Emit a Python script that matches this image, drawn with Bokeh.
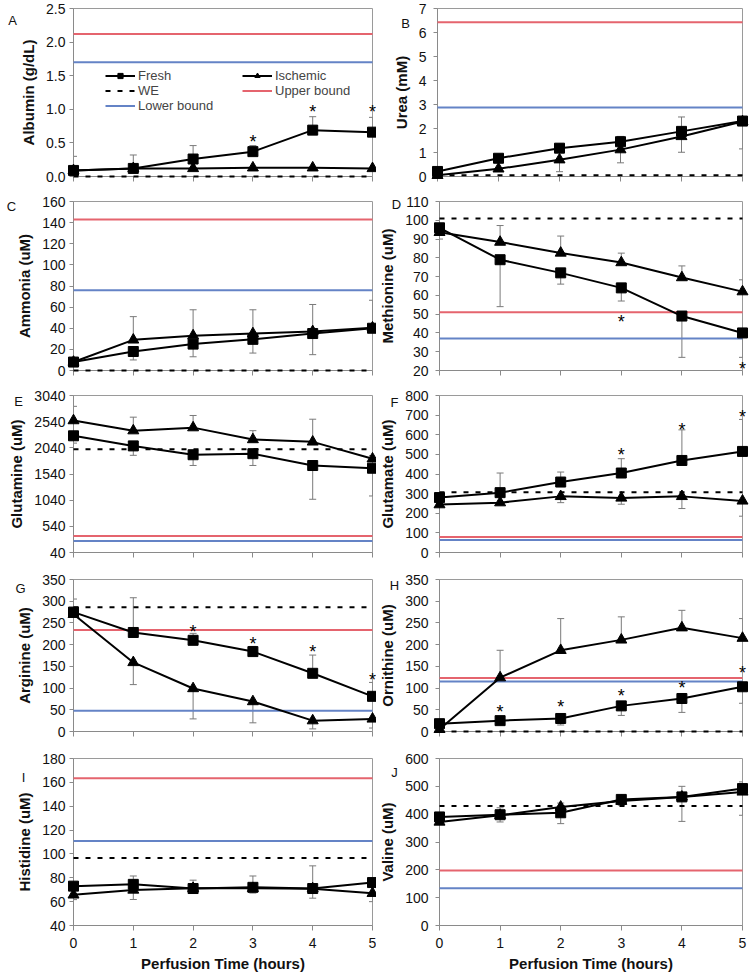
import numpy as np
from bokeh.plotting import figure
from bokeh.models import (ColumnDataSource, Whisker, TeeHead, Legend, LegendItem,
                          FixedTicker, PrintfTickFormatter, Range1d)
from bokeh.layouts import column, row
from bokeh.core.properties import value
from bokeh.embed import file_html
from bokeh.resources import INLINE

# ---------------- data ----------------
hours = [0, 1, 2, 3, 4, 5]

# A Albumin (g/dL)
albumin_fresh = [0.09, 0.12, 0.26, 0.37, 0.69, 0.66]
albumin_fresh_err = [0.21, 0.20, 0.20, 0.09, 0.20, 0.22]
albumin_isch = [0.09, 0.12, 0.12, 0.13, 0.13, 0.12]
albumin_isch_err = [0.0, 0.0, 0.0, 0.0, 0.0, 0.0]
albumin_we, albumin_upper, albumin_lower = 0.0, 2.12, 1.70
albumin_star_x = [3, 4, 5]
albumin_star_y = [0.575, 1.015, 1.015]
albumin_ticks = [0.0, 0.5, 1.0, 1.5, 2.0, 2.5]

# B Urea (mM)
urea_fresh = [0.21, 0.76, 1.18, 1.45, 1.88, 2.31]
urea_fresh_err = [0.05, 0.05, 0.18, 0.22, 0.60, 0.05]
urea_isch = [0.05, 0.32, 0.70, 1.12, 1.67, 2.29]
urea_isch_err = [0.02, 0.05, 0.50, 0.55, 0.66, 1.14]
urea_we, urea_upper, urea_lower = 0.05, 6.43, 2.87
urea_star_x, urea_star_y = [], []
urea_ticks = [0, 1, 2, 3, 4, 5, 6, 7]

# C Ammonia (uM)
ammonia_fresh = [8, 18, 25, 29.5, 35, 40]
ammonia_fresh_err = [1, 8, 12, 13, 20, 1]
ammonia_isch = [8, 29, 33, 35, 37, 40.5]
ammonia_isch_err = [1, 22, 24.5, 22.5, 25.5, 26]
ammonia_we, ammonia_upper, ammonia_lower = 0, 143, 76
ammonia_star_x, ammonia_star_y = [], []
ammonia_ticks = [0, 20, 40, 60, 80, 100, 120, 140, 160]

# D Methionine (uM)
methionine_fresh = [96, 79, 72, 64, 49, 40]
methionine_fresh_err = [6, 25, 6, 7, 22, 13]
methionine_isch = [93.6, 88.4, 82.6, 77.5, 69.5, 62]
methionine_isch_err = [2, 8.8, 9, 5, 6.2, 6.3]
methionine_we, methionine_upper, methionine_lower = 101, 51, 37
methionine_star_x = [3, 5]
methionine_star_y = [47.9, 23]
methionine_ticks = [20, 30, 40, 50, 60, 70, 80, 90, 100, 110]

# E Glutamine (uM)
glutamine_fresh = [2270, 2077, 1908, 1928, 1702, 1650]
glutamine_fresh_err = [140, 180, 205, 225, 645, 530]
glutamine_isch = [2561, 2368, 2426, 2199, 2154, 1831]
glutamine_isch_err = [272, 258, 232, 169, 433, 60]
glutamine_we, glutamine_upper, glutamine_lower = 2012, 357, 260
glutamine_star_x, glutamine_star_y = [], []
glutamine_ticks = [40, 540, 1040, 1540, 2040, 2540, 3040]

# F Glutamate (uM)
glutamate_fresh = [280, 305, 359, 405, 469, 515]
glutamate_fresh_err = [15, 100, 51, 73, 156, 163]
glutamate_isch = [244, 254, 286, 278, 286, 263]
glutamate_isch_err = [10, 10, 32, 32, 62, 78]
glutamate_we, glutamate_upper, glutamate_lower = 307, 79, 64
glutamate_star_x = [3, 4, 5]
glutamate_star_y = [515, 647, 710]
glutamate_ticks = [0, 100, 200, 300, 400, 500, 600, 700, 800]

# G Arginine (uM)
arginine_fresh = [275, 228, 210, 184, 134, 81]
arginine_fresh_err = [30, 80, 16, 12, 42, 32]
arginine_isch = [270, 159, 99, 69, 25, 29]
arginine_isch_err = [5, 51, 70, 49, 19, 21]
arginine_we, arginine_upper, arginine_lower = 286, 234, 48
arginine_star_x = [2, 3, 4, 5]
arginine_star_y = [238, 211, 192, 128]
arginine_ticks = [0, 50, 100, 150, 200, 250, 300, 350]

# H Ornithine (uM)
ornithine_fresh = [18, 25, 30, 59, 76, 103]
ornithine_fresh_err = [3, 4, 15, 22, 32, 38]
ornithine_isch = [5, 124, 187, 211, 239, 215]
ornithine_isch_err = [2, 63, 73, 53, 40, 45]
ornithine_we, ornithine_upper, ornithine_lower = 0, 123, 115
ornithine_star_x = [1, 2, 3, 4, 5]
ornithine_star_y = [53, 65, 90, 109, 143]
ornithine_ticks = [0, 50, 100, 150, 200, 250, 300, 350]

# I Histidine (uM)
histidine_fresh = [73, 74.5, 71, 72, 71, 76]
histidine_fresh_err = [1, 7, 7, 9.5, 19, 1]
histidine_isch = [65.7, 69.8, 71.2, 71.2, 70.9, 67]
histidine_isch_err = [4, 8, 2, 4, 8, 7]
histidine_we, histidine_upper, histidine_lower = 96.6, 163.5, 110.8
histidine_star_x, histidine_star_y = [], []
histidine_ticks = [40, 60, 80, 100, 120, 140, 160, 180]

# J Valine (uM)
valine_fresh = [390, 398, 405, 453, 462, 492]
valine_fresh_err = [5, 25, 35, 9, 38, 24]
valine_isch = [372, 396, 426, 447, 462, 480]
valine_isch_err = [5, 24, 60, 15, 88, 84]
valine_we, valine_upper, valine_lower = 429, 198, 134
valine_star_x, valine_star_y = [], []
valine_ticks = [0, 100, 200, 300, 400, 500, 600]

x_ticks = [0, 1, 2, 3, 4, 5]
x_title = "Perfusion Time (hours)"

# ---------------- style ----------------
FONT = "Liberation Sans"
RED = "#E5646E"
BLUE = "#6483C6"
ERR = "#7a7a7a"
AXIS = "#8a8a8a"

ROW_H = [191, 194, 184, 179, 231]
ROW_TOP = [8, 10, 10, 10, 10]
ROW_BOT = [15, 15, 17, 17, 54]
COL_W = [376, 377]
COL_L = [73, 61]
COL_R = [4, 11]
COL_LABEL_STANDOFF = [4, 7]
OV = "overlay"


def add_err(p, vals, err, direction):
    v = np.array(vals, dtype=float)
    e = np.array(err, dtype=float)
    if direction > 0:
        lo, up = v, v + e
    else:
        lo, up = v - e, v
    src = ColumnDataSource(dict(x=hours, lo=lo, up=up))
    head = lambda: TeeHead(size=7, line_color=ERR, line_width=1)
    w = Whisker(source=src, base="x", lower="lo", upper="up", dimension="height",
                line_color=ERR, line_width=1,
                upper_head=head() if direction > 0 else None,
                lower_head=head() if direction < 0 else None)
    p.add_layout(w)


def panel(letter, ylabel, ylim, yticks, fresh, fresh_err, fdir, isch, isch_err, idir,
          we, upper, lower, star_x, star_y, col, r, letter_off, fmt=None, legend=False):
    bottom = (r == 4)
    p = figure(width=COL_W[col], height=ROW_H[r], output_backend="svg", toolbar_location=None,
               x_range=Range1d(hours[0], hours[-1]), y_range=Range1d(ylim[0], ylim[1]),
               min_border_left=COL_L[col], min_border_right=COL_R[col],
               min_border_top=ROW_TOP[r], min_border_bottom=ROW_BOT[r])
    p.background_fill_color = "white"
    p.border_fill_color = "white"
    p.outline_line_color = "#9a9a9a"
    p.outline_line_width = 1
    p.xgrid.visible = False
    p.ygrid.visible = False

    # axes
    p.xaxis.ticker = FixedTicker(ticks=x_ticks)
    p.yaxis.ticker = FixedTicker(ticks=yticks)
    for ax in (p.xaxis, p.yaxis):
        ax.axis_line_color = AXIS
        ax.major_tick_line_color = AXIS
        ax.minor_tick_line_color = None
        ax.major_tick_in = 0
        ax.major_tick_out = 4
        ax.major_label_text_font = FONT
        ax.major_label_text_font_size = "14px"
        ax.major_label_text_color = "#111111"
        ax.axis_label_text_font = FONT
        ax.axis_label_text_font_style = "bold"
        ax.axis_label_text_font_size = "15px"
        ax.axis_label_text_color = "#111111"
    p.yaxis.major_label_standoff = COL_LABEL_STANDOFF[col]
    p.yaxis.axis_label = ylabel
    p.yaxis.axis_label_standoff = 6
    p.xaxis.major_tick_out = 5
    if fmt:
        p.yaxis.formatter = PrintfTickFormatter(format=fmt)
    if bottom:
        p.xaxis.axis_label = x_title
        p.xaxis.major_label_standoff = 7
        p.xaxis.axis_label_standoff = 4
    else:
        p.xaxis.major_label_text_font_size = "1px"
        p.xaxis.major_label_text_color = None
        p.xaxis.major_label_standoff = 0

    add_err(p, fresh, fresh_err, fdir)
    add_err(p, isch, isch_err, idir)

    xs = [hours[0], hours[-1]]
    r_up = p.line(xs, [upper, upper], line_color=RED, line_width=2, level=OV)
    r_lo = p.line(xs, [lower, lower], line_color=BLUE, line_width=2, level=OV)
    r_we = p.line(xs, [we, we], line_color="black", line_width=2, line_dash="5 7", level=OV)

    l_i = p.line(hours, isch, line_color="black", line_width=2, level=OV)
    l_f = p.line(hours, fresh, line_color="black", line_width=2, level=OV)
    s_i = p.scatter(hours, isch, marker="triangle", size=11, fill_color="black",
                    line_color="black", level=OV)
    s_f = p.scatter(hours, fresh, marker="square", size=10, fill_color="black",
                    line_color="black", level=OV)

    if star_x:
        p.text(x=star_x, y=star_y, text=["*"] * len(star_x), text_font=value(FONT),
               text_font_size="18px", text_align="center", text_baseline="middle",
               y_offset=4, text_color="black", level=OV)

    # panel letter, placed relative to the frame's top-left corner
    p.text(x=[hours[0]], y=[ylim[1]], text=[letter], x_offset=letter_off[0], y_offset=letter_off[1],
           text_font=value(FONT), text_font_size="13px", text_align="center",
           text_baseline="middle", text_color="#111111", level=OV)

    if legend:
        common = dict(label_text_font=FONT, label_text_font_size="13px", label_height=13,
                      glyph_height=13, glyph_width=30, label_standoff=3, spacing=0,
                      padding=0, margin=0, border_line_color=None, background_fill_alpha=0)
        leg1 = Legend(items=[LegendItem(label="Fresh", renderers=[l_f, s_f]),
                             LegendItem(label="WE", renderers=[r_we]),
                             LegendItem(label="Lower bound", renderers=[r_lo])],
                      location=(32, 63), **common)
        leg2 = Legend(items=[LegendItem(label="Ischemic", renderers=[l_i, s_i]),
                             LegendItem(label="Upper bound", renderers=[r_up])],
                      location=(169, 78), **common)
        p.add_layout(leg1)
        p.add_layout(leg2)
    return p


pA = panel("A", "Albumin (g/dL)", (0, 2.5), albumin_ticks, albumin_fresh, albumin_fresh_err, 1,
           albumin_isch, albumin_isch_err, 1, albumin_we, albumin_upper, albumin_lower,
           albumin_star_x, albumin_star_y, 0, 0, (-61, 12), fmt="%.1f", legend=True)
pB = panel("B", "Urea (mM)", (0, 7), urea_ticks, urea_fresh, urea_fresh_err, 1,
           urea_isch, urea_isch_err, -1, urea_we, urea_upper, urea_lower,
           urea_star_x, urea_star_y, 1, 0, (-32, 15))
pC = panel("C", "Ammonia (uM)", (0, 160), ammonia_ticks, ammonia_fresh, ammonia_fresh_err, -1,
           ammonia_isch, ammonia_isch_err, 1, ammonia_we, ammonia_upper, ammonia_lower,
           ammonia_star_x, ammonia_star_y, 0, 1, (-62, 5))
pD = panel("D", "Methionine (uM)", (20, 110), methionine_ticks, methionine_fresh, methionine_fresh_err, -1,
           methionine_isch, methionine_isch_err, 1, methionine_we, methionine_upper, methionine_lower,
           methionine_star_x, methionine_star_y, 1, 1, (-43, 3))
pE = panel("E", "Glutamine (uM)", (40, 3040), glutamine_ticks, glutamine_fresh, glutamine_fresh_err, -1,
           glutamine_isch, glutamine_isch_err, 1, glutamine_we, glutamine_upper, glutamine_lower,
           glutamine_star_x, glutamine_star_y, 0, 2, (-55, 6))
pF = panel("F", "Glutamate (uM)", (0, 800), glutamate_ticks, glutamate_fresh, glutamate_fresh_err, 1,
           glutamate_isch, glutamate_isch_err, -1, glutamate_we, glutamate_upper, glutamate_lower,
           glutamate_star_x, glutamate_star_y, 1, 2, (-45, 7))
pG = panel("G", "Arginine (uM)", (0, 350), arginine_ticks, arginine_fresh, arginine_fresh_err, 1,
           arginine_isch, arginine_isch_err, -1, arginine_we, arginine_upper, arginine_lower,
           arginine_star_x, arginine_star_y, 0, 3, (-53, 9))
pH = panel("H", "Ornithine (uM)", (0, 350), ornithine_ticks, ornithine_fresh, ornithine_fresh_err, -1,
           ornithine_isch, ornithine_isch_err, 1, ornithine_we, ornithine_upper, ornithine_lower,
           ornithine_star_x, ornithine_star_y, 1, 3, (-45, 6))
pI = panel("I", "Histidine (uM)", (40, 180), histidine_ticks, histidine_fresh, histidine_fresh_err, 1,
           histidine_isch, histidine_isch_err, -1, histidine_we, histidine_upper, histidine_lower,
           histidine_star_x, histidine_star_y, 0, 4, (-50, 19))
pJ = panel("J", "Valine (uM)", (0, 600), valine_ticks, valine_fresh, valine_fresh_err, 1,
           valine_isch, valine_isch_err, -1, valine_we, valine_upper, valine_lower,
           valine_star_x, valine_star_y, 1, 4, (-45, 14))

layout = column(row(pA, pB), row(pC, pD), row(pE, pF), row(pG, pH), row(pI, pJ))

open("out.html", "w").write(file_html(layout, INLINE))
